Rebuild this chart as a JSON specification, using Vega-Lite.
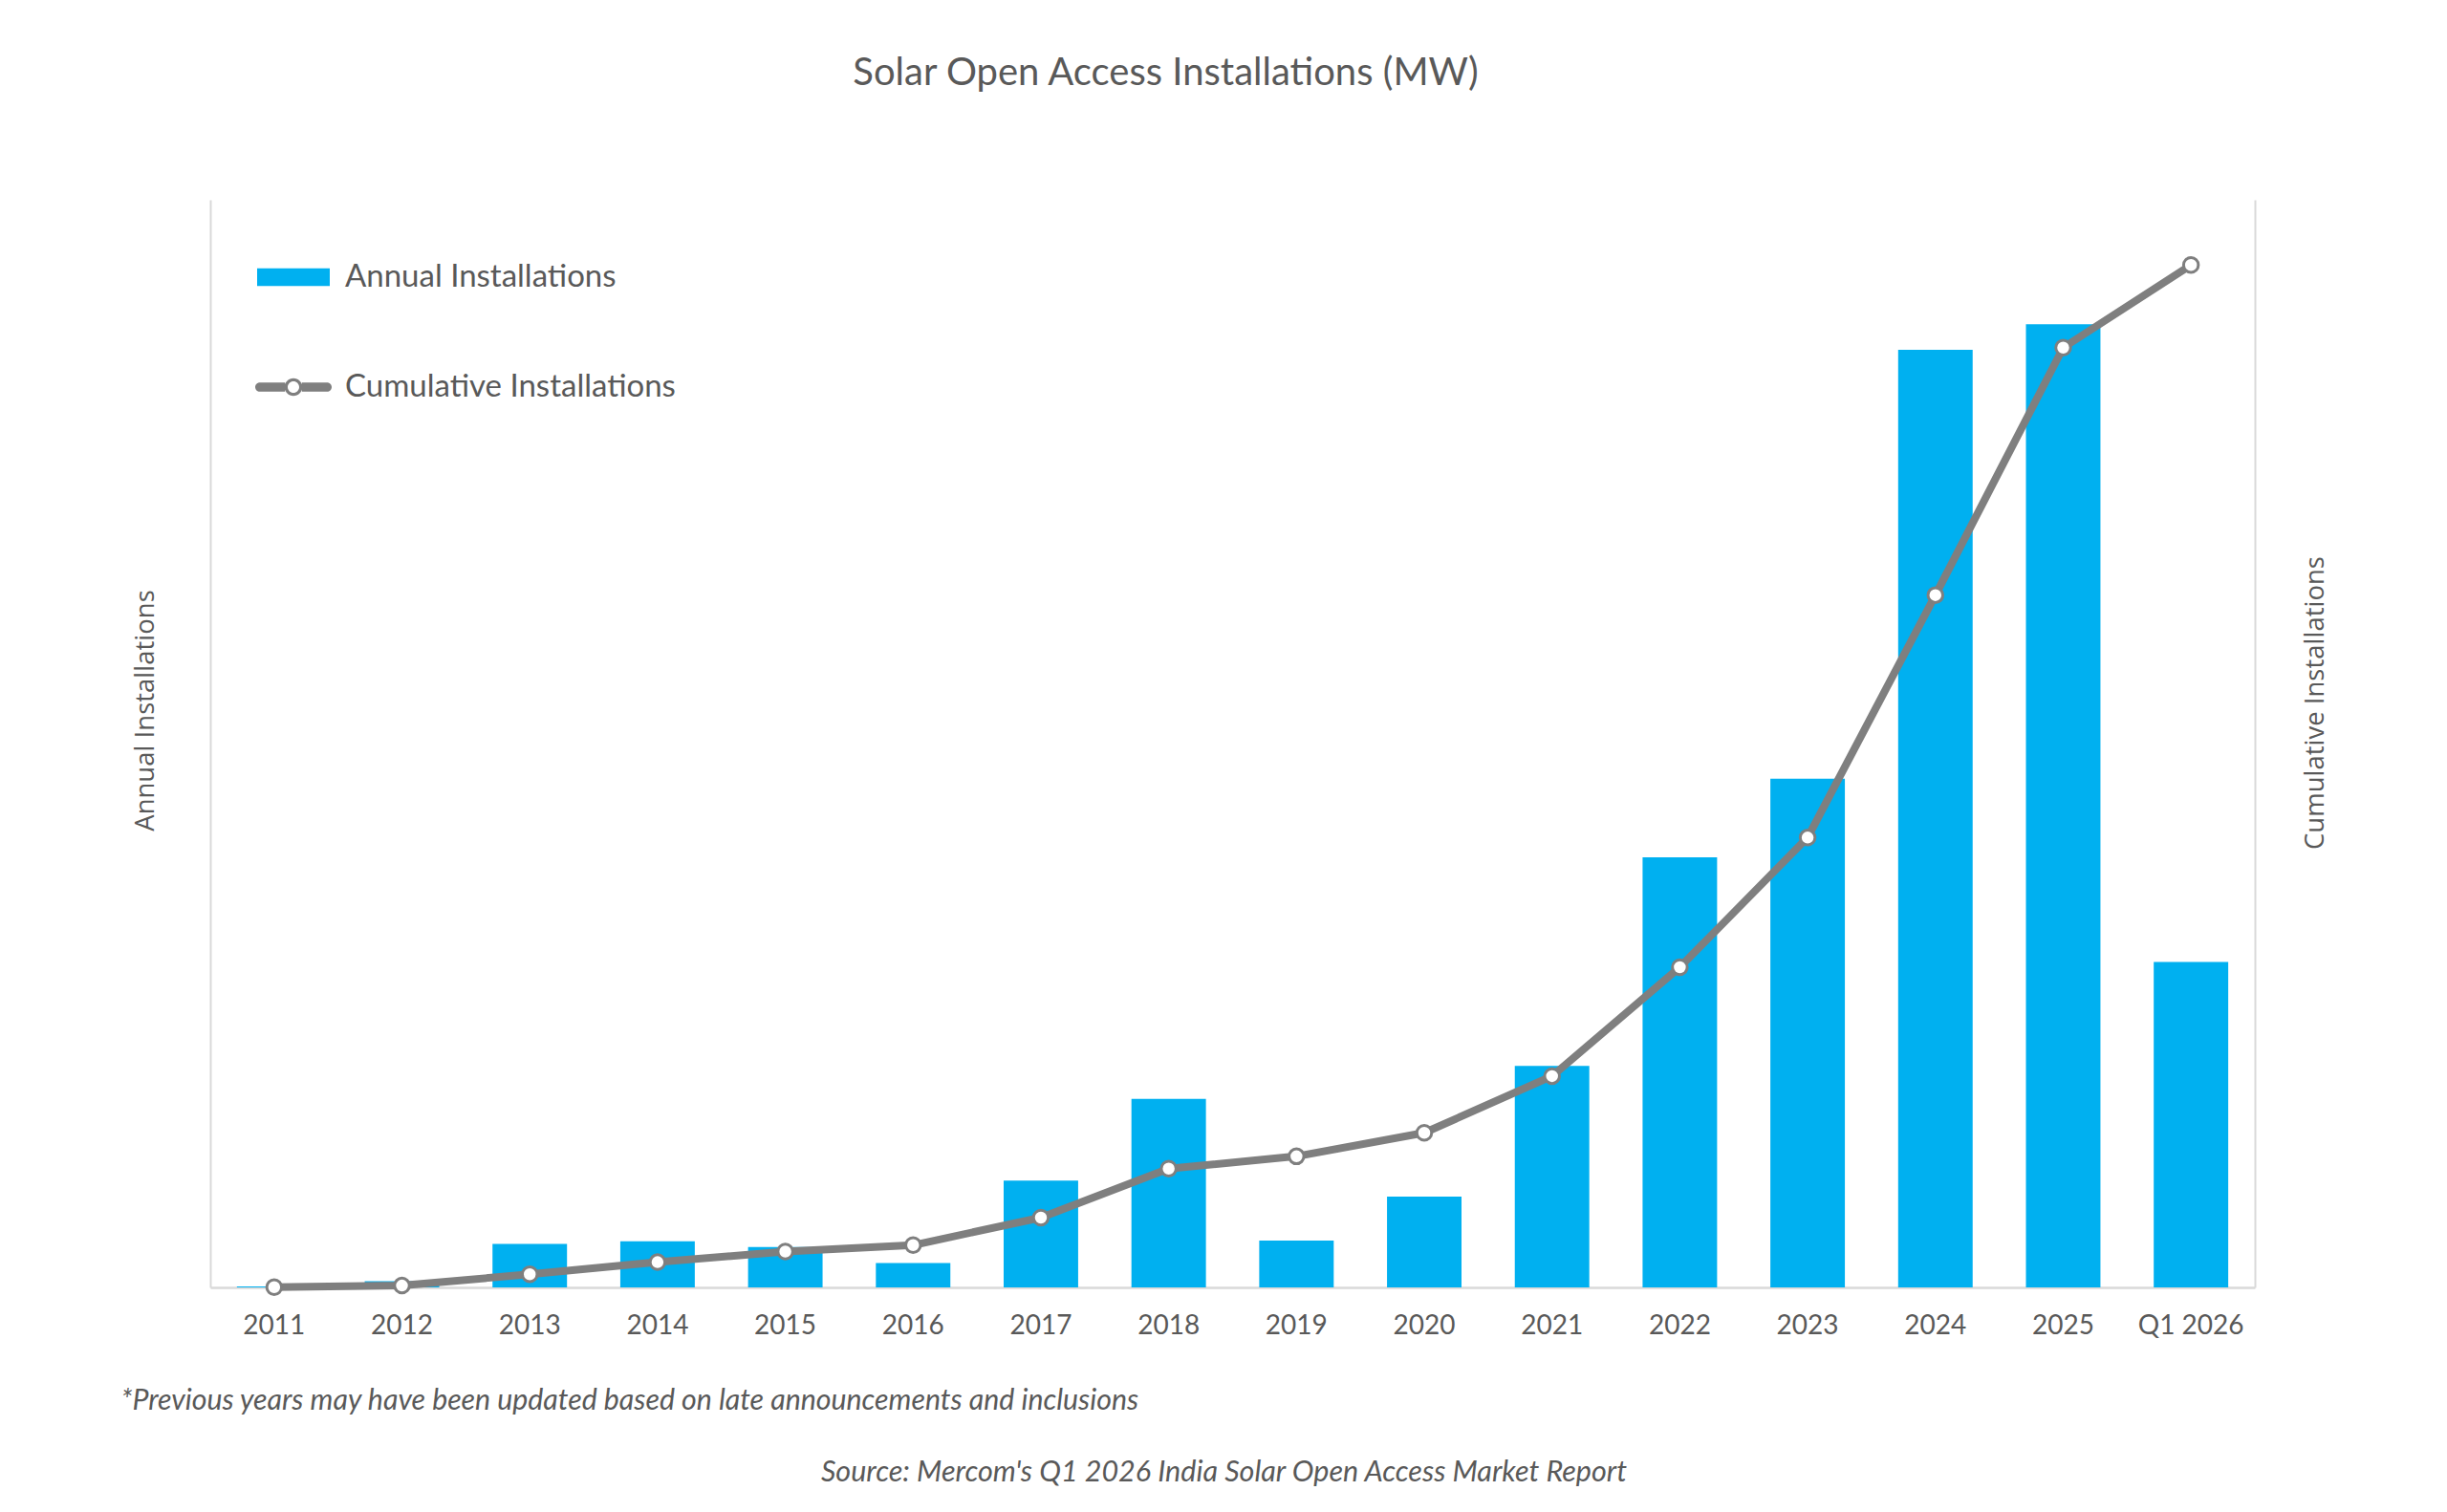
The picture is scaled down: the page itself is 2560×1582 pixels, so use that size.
{
  "$schema": "https://vega.github.io/schema/vega-lite/v6.json",
  "width": 2139,
  "height": 1138,
  "autosize": {"type": "none"},
  "padding": {"left": 220, "top": 209, "right": 201, "bottom": 235},
  "background": "#ffffff",
  "config": {"view": {"stroke": null}, "font": "Lato"},
  "title": {
    "text": "Solar Open Access Installations (MW)",
    "font": "Lato",
    "fontSize": 40,
    "fontWeight": "normal",
    "color": "#595959",
    "anchor": "middle",
    "frame": "group",
    "baseline": "middle",
    "offset": 92,
    "dx": -70
  },
  "data": {
    "values": [
      {"year": "2011", "annual": 8, "cumulative": 8},
      {"year": "2012", "annual": 50, "cumulative": 58},
      {"year": "2013", "annual": 349, "cumulative": 410},
      {"year": "2014", "annual": 369, "cumulative": 790},
      {"year": "2015", "annual": 323, "cumulative": 1120},
      {"year": "2016", "annual": 195, "cumulative": 1320},
      {"year": "2017", "annual": 855, "cumulative": 2180},
      {"year": "2018", "annual": 1510, "cumulative": 3710},
      {"year": "2019", "annual": 375, "cumulative": 4095},
      {"year": "2020", "annual": 728, "cumulative": 4830},
      {"year": "2021", "annual": 1775, "cumulative": 6600},
      {"year": "2022", "annual": 3445, "cumulative": 10003},
      {"year": "2023", "annual": 4075, "cumulative": 14054},
      {"year": "2024", "annual": 7510, "cumulative": 21628},
      {"year": "2025", "annual": 7715, "cumulative": 29358},
      {"year": "Q1 2026", "annual": 2606, "cumulative": 31940}
    ]
  },
  "layer": [
    {
      "mark": {"type": "bar"},
      "encoding": {
        "x": {
          "field": "year",
          "type": "nominal",
          "sort": null,
          "scale": {"paddingInner": 0.417, "paddingOuter": 0.2085},
          "axis": {
            "title": "*Previous years may have been updated based on late announcements and inclusions",
            "titleX": -94,
            "titleY": 118,
            "titleAlign": "left",
            "titleBaseline": "middle",
            "titleFont": "Lato",
            "titleFontStyle": "italic",
            "titleFontSize": 30.3,
            "titleFontWeight": "normal",
            "titleColor": "#595959",
            "labelAngle": 0,
            "labelFont": "Lato",
            "labelFontSize": 28,
            "labelColor": "#595959",
            "labelPadding": 40,
            "labelBaseline": "middle",
            "ticks": false,
            "tickSize": 0,
            "domainColor": "#D9D9D9",
            "domainWidth": 2.5,
            "grid": false
          }
        },
        "y": {
          "field": "annual",
          "type": "quantitative",
          "scale": {"domain": [0, 8712], "nice": false, "zero": true},
          "axis": {
            "title": "Annual Installations",
            "titleX": -68,
            "titleY": 534,
            "titleAngle": -90,
            "titleAlign": "center",
            "titleBaseline": "middle",
            "titleFont": "Open Sans",
            "titleFontSize": 27.5,
            "titleFontWeight": "normal",
            "titleColor": "#595959",
            "labels": false,
            "ticks": false,
            "grid": false,
            "domainColor": "#D9D9D9",
            "domainWidth": 2
          }
        },
        "color": {
          "datum": "Annual Installations",
          "scale": {
            "domain": ["Annual Installations", "Cumulative Installations"],
            "range": ["#00B0F0", "#7F7F7F"]
          },
          "legend": {
            "title": null,
            "orient": "none",
            "legendX": 47,
            "legendY": 41,
            "direction": "vertical",
            "padding": 0,
            "symbolSize": 6400,
            "rowPadding": 58,
            "labelOffset": 14,
            "labelFont": "Lato",
            "labelFontSize": 33,
            "labelColor": "#595959",
            "labelLimit": 0,
            "symbolStrokeWidth": 0,
            "symbolOpacity": 1,
            "encode": {
              "symbols": {
                "update": {
                  "shape": {"signal": "datum.value === 'Annual Installations' ? 'M-0.95 -0.23H0.95V0.23H-0.95Z' : 'M-0.88 -0.12H-0.22V0.12H-0.88A0.12 0.12 0 0 1 -0.88 -0.12Z M0.22 -0.12H0.88A0.12 0.12 0 0 1 0.88 0.12H0.22Z M0.23 0A0.23 0.23 0 1 1 -0.23 0A0.23 0.23 0 1 1 0.23 0Z M0.15 0A0.15 0.15 0 1 0 -0.15 0A0.15 0.15 0 1 0 0.15 0Z'"},
                  "fill": {"signal": "datum.value === 'Annual Installations' ? '#00B0F0' : '#7F7F7F'"},
                  "stroke": {"value": "transparent"},
                  "strokeWidth": {"value": 0},
                  "opacity": {"value": 1}
                }
              }
            }
          }
        }
      }
    },
    {
      "encoding": {
        "x": {
          "field": "year",
          "type": "nominal",
          "sort": null,
          "axis": {
            "orient": "bottom",
            "title": "Source: Mercom's Q1 2026 India Solar Open Access Market Report",
            "titleX": 1060,
            "titleY": 193,
            "titleAlign": "center",
            "titleBaseline": "middle",
            "titleFont": "Lato",
            "titleFontStyle": "italic",
            "titleFontSize": 30.5,
            "titleFontWeight": "normal",
            "titleColor": "#595959",
            "labels": false,
            "ticks": false,
            "domain": false,
            "grid": false
          }
        },
        "y": {
          "field": "cumulative",
          "type": "quantitative",
          "scale": {"domain": [0, 33979], "nice": false, "zero": true},
          "axis": {
            "orient": "right",
            "title": "Cumulative Installations",
            "titleX": 63,
            "titleY": 526,
            "titleAngle": -90,
            "titleAlign": "center",
            "titleBaseline": "middle",
            "titleFont": "Open Sans",
            "titleFontSize": 27.5,
            "titleFontWeight": "normal",
            "titleColor": "#595959",
            "labels": false,
            "ticks": false,
            "grid": false,
            "domainColor": "#D9D9D9",
            "domainWidth": 2
          }
        }
      },
      "layer": [
        {
          "mark": {"type": "line", "strokeWidth": 8, "strokeCap": "round", "strokeJoin": "round"},
          "encoding": {"color": {"datum": "Cumulative Installations"}}
        },
        {
          "mark": {"type": "point", "filled": true, "fill": "#ffffff", "stroke": "#7F7F7F", "strokeWidth": 3, "size": 240, "opacity": 1},
          "encoding": {}
        }
      ]
    }
  ],
  "resolve": {"scale": {"y": "independent"}, "axis": {"x": "independent"}}
}
